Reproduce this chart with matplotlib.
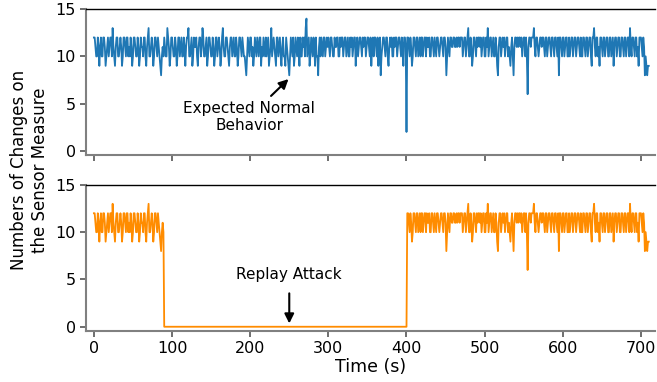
import numpy as np
import matplotlib
matplotlib.use("Agg")
import matplotlib.pyplot as plt

# Number of sensor-measure changes per second
normal_changes = [
    12,12,11,10,10,12,11,9,11,12,
    10,10,12,12,11,9,10,11,12,10,
    11,12,12,10,13,11,10,9,11,12,
    12,10,10,11,12,11,9,10,12,12,
    11,10,12,12,10,11,10,12,11,9,
    10,12,12,11,10,10,12,11,9,10,
    12,11,11,10,12,12,10,9,11,12,
    13,10,10,11,12,11,9,10,12,12,
    11,10,12,11,10,9,8,10,11,10,
    12,11,10,10,13,12,11,9,10,12,
    12,11,10,10,12,11,9,10,12,12,
    10,11,12,10,10,12,11,9,11,12,
    12,13,10,10,11,12,9,10,12,11,
    11,12,10,9,11,12,12,10,11,13,
    12,10,10,11,12,9,10,12,12,11,
    10,10,12,11,9,10,12,12,10,11,
    12,11,9,10,12,13,11,10,10,12,
    12,11,10,9,11,12,12,10,11,12,
    10,10,12,11,9,10,12,12,11,10,
    12,11,10,10,9,8,10,12,11,10,
    12,12,10,11,9,10,12,11,10,12,
    11,10,12,12,9,11,10,12,11,10,
    12,10,11,12,9,10,11,13,10,11,
    12,11,10,9,12,12,10,11,12,10,
    9,11,12,10,10,9,12,11,10,9,
    8,10,12,11,10,12,9,10,12,11,
    10,12,11,9,12,10,10,12,11,12,
    10,13,14,10,11,12,9,10,12,11,
    10,12,11,9,12,10,10,8,11,12,
    10,12,11,10,12,12,10,11,12,11,
    12,11,10,12,12,11,10,10,12,11,
    11,12,12,10,10,12,11,12,12,10,
    11,12,12,10,11,12,10,10,12,11,
    12,10,11,12,12,9,11,12,10,11,
    12,12,11,10,12,11,12,12,10,11,
    12,12,11,10,12,9,11,12,10,12,
    12,11,10,12,9,11,12,8,10,11,
    12,12,11,10,12,12,10,9,11,12,
    11,12,10,10,12,11,12,12,10,11,
    12,12,11,10,12,11,9,12,12,11,
    2,12,12,11,10,12,11,9,10,12,
    12,11,10,12,12,10,11,12,10,12,
    12,10,11,12,12,10,12,11,11,12,
    10,10,12,12,11,10,12,11,10,12,
    12,11,10,11,12,12,11,10,12,12,
    11,8,10,12,11,10,12,12,11,11,
    12,12,11,11,12,11,12,12,11,12,
    12,12,10,11,12,12,10,11,12,13,
    10,10,12,11,9,10,12,12,11,10,
    12,11,12,12,11,12,10,11,12,12,
    10,10,12,11,13,10,11,12,12,10,
    11,12,10,10,12,11,9,8,11,12,
    12,10,11,12,11,12,10,11,12,12,
    10,11,10,9,11,12,10,8,11,12,
    12,11,12,11,12,12,11,12,10,11,
    12,12,10,12,10,6,11,12,12,11,
    12,12,12,13,11,10,12,12,11,10,
    11,12,12,11,12,12,11,10,12,12,
    10,11,12,12,11,10,12,12,11,10,
    12,12,11,10,12,8,12,12,11,10,
    12,12,10,11,12,12,10,10,12,10,
    11,12,12,10,11,12,12,10,11,12,
    12,11,10,12,10,10,12,12,11,10,
    12,12,10,11,12,12,10,9,12,12,
    13,11,10,12,12,10,11,9,12,12,
    11,10,12,12,10,11,12,12,10,10,
    12,12,10,11,12,9,11,12,12,10,
    11,12,12,10,10,12,12,11,10,12,
    12,10,11,12,12,10,13,11,10,12,
    12,11,10,12,12,10,11,9,12,12,
    12,11,10,12,11,8,10,9,8,9,
    9,
]
# Replay attack window (s): sensor reports no changes
replay_start = 90
replay_end = 400

normal = np.array(normal_changes)
time_s = np.arange(len(normal))
attack = np.where((time_s >= replay_start) & (time_s <= replay_end), 0, normal)

x_ticks = [0, 100, 200, 300, 400, 500, 600, 700]
y_ticks = [0, 5, 10, 15]

fig = plt.figure(figsize=(6.57, 3.82), dpi=100)
ax1 = fig.add_axes([0.131, 0.594, 0.866, 0.382])
ax2 = fig.add_axes([0.131, 0.1335, 0.866, 0.3825])

ax1.plot(time_s, normal, color="#1f77b4", lw=1.3)
ax2.plot(time_s, attack, color="#ff8c00", lw=1.3)

for ax in (ax1, ax2):
    ax.set_xlim(-10, 718)
    ax.set_ylim(-0.45, 15)
    ax.set_xticks(x_ticks)
    ax.set_yticks(y_ticks)
    ax.spines["right"].set_visible(False)
    ax.spines["top"].set_color("black")
    ax.spines["top"].set_linewidth(1.0)
    for s in ("left", "bottom"):
        ax.spines[s].set_color("#808080")
        ax.spines[s].set_linewidth(1.5)
    ax.tick_params(axis="both", colors="#555555", labelcolor="black",
                   labelsize=11.5, length=4, width=1.2)

ax1.tick_params(axis="x", labelbottom=False)
ax2.set_xlabel("Time (s)", fontsize=12.5, labelpad=1)

fig.text(0.045, 0.555, "Numbers of Changes on\nthe Sensor Measure",
         rotation=90, ha="center", va="center", fontsize=12)

ax1.annotate("Expected Normal\nBehavior", xy=(249, 7.6), xytext=(199, 3.6),
             ha="center", va="center", fontsize=11,
             arrowprops=dict(arrowstyle="-|>", color="black", lw=1.5,
                             mutation_scale=14, shrinkA=2, shrinkB=0))
ax2.annotate("Replay Attack", xy=(250, 0.35), xytext=(250, 5.5),
             ha="center", va="center", fontsize=11,
             arrowprops=dict(arrowstyle="-|>", color="black", lw=1.5,
                             mutation_scale=14, shrinkA=6, shrinkB=0))

fig.savefig("out.png", dpi=100)
